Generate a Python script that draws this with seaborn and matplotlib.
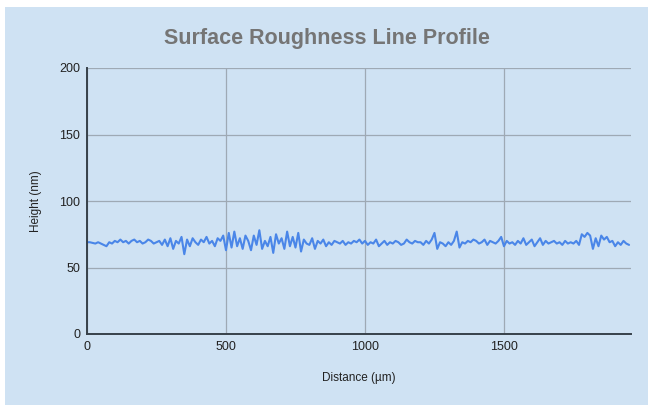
import numpy as np
import pandas as pd
import matplotlib
matplotlib.use('Agg')
import matplotlib.pyplot as plt
from matplotlib.patches import Rectangle
import seaborn as sns

#%% data (10 um steps)
distance = np.arange(0, 1960, 10)

height = [
    69, 69, 68.5, 68, 69, 68, 67, 66, 69, 68,
    70, 69, 71, 69, 70, 68, 70, 71, 69, 70,
    68, 69, 71, 70, 68, 69, 70, 67, 71, 66,
    72, 64, 70, 68, 73, 60, 71, 66, 72, 69,
    67, 71, 69, 73, 68, 70, 66, 72, 70, 74,
    63, 76, 65, 77, 66, 72, 64, 74, 70, 63,
    74, 67, 78, 64, 70, 66, 73, 61, 75, 68,
    72, 64, 77, 66, 73, 65, 76, 62, 71, 68,
    67, 72, 64, 70, 68, 71, 66, 69, 67, 70,
    69, 68, 70, 67, 69, 68, 70, 69, 71, 68,
    70, 67, 69, 68, 71, 66, 68, 70, 67, 69,
    68, 70, 69, 67, 68, 71, 69, 68, 70, 69,
    69, 67, 70, 68, 71, 76, 64, 69, 68, 66,
    69, 67, 70, 77, 65, 69, 68, 70, 69, 71,
    70, 68, 69, 71, 67, 70, 69, 68, 70, 73,
    66, 70, 68, 69, 67, 70, 68, 72, 67, 69,
    71, 66, 69, 72, 67, 70, 68, 69, 70, 68,
    69, 67, 70, 68, 69, 68, 70, 67, 75, 73,
    76, 74, 64, 72, 66, 74, 71, 73, 69, 70,
    66, 69, 67, 70, 68, 67,
]

x_ticks = [0, 500, 1000, 1500]
y_ticks = [0, 50, 100, 150, 200]

df = pd.DataFrame({'Distance': distance, 'Height': height})

#%% plot
BG = '#cfe2f3'
sns.set_style('whitegrid')
plt.rcParams['font.family'] = ['Liberation Sans', 'DejaVu Sans']

fig = plt.figure(figsize=(6.48, 4.05), dpi=100, facecolor='white')
fig.patches.append(Rectangle((5/648, 0), 1, 1 - 7/405, transform=fig.transFigure,
                             facecolor=BG, edgecolor='none', zorder=-10))
ax = fig.add_axes([87/648, 1 - 334/405, (631 - 87)/648, (334 - 68)/405])
ax.set_facecolor(BG)

sns.lineplot(data=df, x='Distance', y='Height', ax=ax, color='#4a86e8', linewidth=1.5)

ax.set_xlim(0, 1957)
ax.set_ylim(0, 200)
ax.set_xticks(x_ticks)
ax.set_yticks(y_ticks)
ax.grid(True, color='#9ea9b4', linewidth=0.9)
ax.tick_params(length=0, labelsize=9, colors='#222222', pad=5)
for s in ['top', 'right']:
    ax.spines[s].set_visible(False)
for s in ['left', 'bottom']:
    ax.spines[s].set_color('#37414a')
    ax.spines[s].set_linewidth(1.4)

ax.set_xlabel('Distance (µm)', fontsize=8.5, color='#222222', labelpad=14)
ax.set_ylabel('Height (nm)', fontsize=8.5, color='#222222', labelpad=12)

fig.text(0.505, 0.905, 'Surface Roughness Line Profile', ha='center', va='center',
         fontsize=15.5, fontweight='bold', color='#757575')

fig.savefig('out.png', dpi=100, facecolor=fig.get_facecolor())
